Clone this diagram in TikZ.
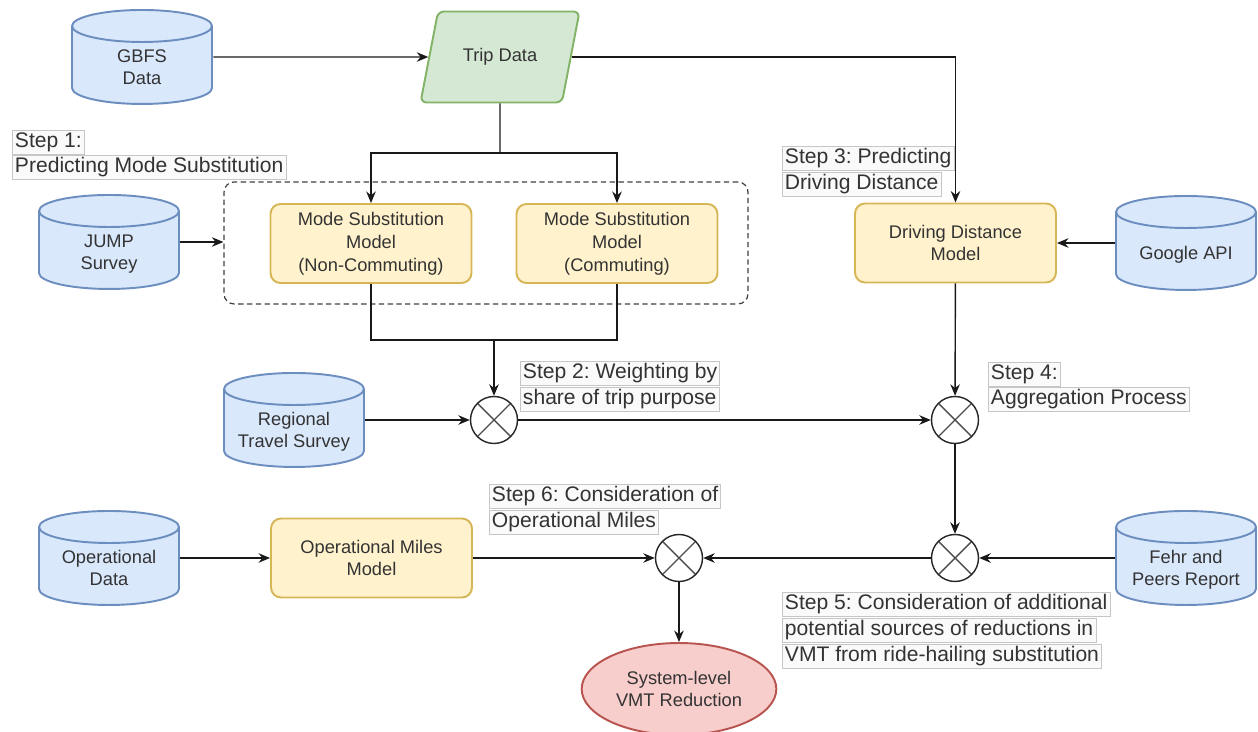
\documentclass[tikz,border=0pt]{standalone}
\usepackage{fontspec}
\setmainfont{Liberation Sans}
\frenchspacing
\usetikzlibrary{positioning,shapes.geometric,arrows.meta}

\definecolor{dbfill}{HTML}{DAE8FC}
\definecolor{dbline}{HTML}{6C8EBF}
\definecolor{modelfill}{HTML}{FFF2CC}
\definecolor{modelline}{HTML}{D6B656}
\definecolor{tripfill}{HTML}{D5E8D4}
\definecolor{tripline}{HTML}{82B366}
\definecolor{resfill}{HTML}{F8CECC}
\definecolor{resline}{HTML}{B85450}
\definecolor{txt}{HTML}{333333}

% text of a cylinder sits below the top end
\newcommand\dbtext[1]{\raisebox{-0.24cm}[\height][\depth]{\begin{tabular}{@{}c@{}}#1\end{tabular}}}

\tikzset{
  boxfont/.style={font=\fontsize{10.4}{13}\selectfont, text=txt, align=center},
  database/.style={boxfont, rectangle, inner sep=0pt,
    minimum width=2.8cm+1.1pt, minimum height=1.88cm+1.1pt,
    path picture={
      \draw[draw=dbline, fill=dbfill, line width=1.1pt]
        ([xshift=0.55pt, yshift=-0.339cm]path picture bounding box.north west)
        -- ++(0,-1.24cm)
        arc[start angle=180, end angle=360, x radius=1.4cm, y radius=0.32cm]
        -- ++(0,1.24cm)
        arc[start angle=0, end angle=180, x radius=1.4cm, y radius=0.32cm] -- cycle;
      \draw[draw=dbline, line width=1.1pt]
        ([xshift=0.55pt, yshift=-0.339cm]path picture bounding box.north west)
        arc[start angle=180, end angle=360, x radius=1.4cm, y radius=0.32cm];}},
  model/.style={boxfont, rectangle, rounded corners=0.2cm, draw=modelline,
    fill=modelfill, line width=1.1pt, minimum width=4.02cm, minimum height=1.58cm},
  tripbox/.style={boxfont, trapezium, trapezium left angle=67, trapezium right angle=113,
    trapezium stretches=true, rounded corners=0.12cm, draw=tripline, fill=tripfill,
    line width=1.1pt, minimum width=3.2cm, minimum height=1.82cm},
  result/.style={boxfont, ellipse, draw=resline, fill=resfill, line width=1.1pt,
    minimum width=3.76cm, minimum height=1.84cm},
  mixer/.style={circle, draw=black!85, line width=0.8pt, minimum size=0.94cm, inner sep=0pt,
    path picture={\draw[black!70, line width=0.8pt]
      (path picture bounding box.north west) -- (path picture bounding box.south east)
      (path picture bounding box.north east) -- (path picture bounding box.south west);}},
  groupbox/.style={draw=black!75, dash pattern=on 3pt off 2pt, rounded corners=0.2cm,
    line width=0.7pt, minimum width=10.48cm, minimum height=2.44cm},
  steplabel/.style={anchor=north west, draw=gray!45, fill=gray!4, line width=0.4pt,
    inner xsep=1.5pt, inner ysep=0pt, minimum height=0.48cm, text height=9pt,
    text depth=2.6pt, font=\fontsize{12}{14}\selectfont, text=txt},
  flow/.style={-{Stealth[length=2.3mm,width=1.9mm]}, line width=0.8pt, draw=black!90},
  link/.style={line width=0.8pt, draw=black!90}
}

\begin{document}
\begin{tikzpicture}[x=0.02cm, y=-0.02cm]
\useasboundingbox (0,0) rectangle (1258,732);

% data sources
\node[database] (gbfs) at (142,57) {\dbtext{GBFS\\Data}};
\node[database] (jump) at (109,242) {\dbtext{JUMP\\Survey}};
\node[database] (regional) at (294,420) {\dbtext{Regional\\Travel Survey}};
\node[database] (opdata) at (109,558) {\dbtext{Operational\\Data}};
\node[database] (google) at (1186,243) {\dbtext{Google API}};
\node[database] (fehr) at (1186,558) {\dbtext{Fehr and\\Peers Report}};

% trip data
\node[tripbox] (trip) at (500,57) {Trip Data};

% step 1 group
\node[groupbox] (group) at (486,243) {};
\node[model] (ncm) at (371,243.5) {Mode Substitution\\Model\\(Non-Commuting)};
\node[model] (cm) at (617,243.5) {Mode Substitution\\Model\\(Commuting)};

% models
\node[model] (drive) at (955.5,243) {Driving Distance\\Model};
\node[model] (opmiles) at (371.5,558) {Operational Miles\\Model};

% combination points
\node[mixer] (mix1) at (494,420) {};
\node[mixer] (mix2) at (955,420) {};
\node[mixer] (mix3) at (955,558) {};
\node[mixer] (mix4) at (679,558) {};

\node[result] (vmt) at (679,689) {System-level\\VMT Reduction};

% step labels
\node[steplabel] (s1a) at (12,130) {Step 1:};
\node[steplabel] (s1b) at (12,155) {Predicting Mode Substitution};
\node[steplabel] (s2a) at (520,361) {Step 2: Weighting by};
\node[steplabel] (s2b) at (520,387) {share of trip purpose};
\node[steplabel] (s3a) at (782,146) {Step 3: Predicting};
\node[steplabel] (s3b) at (782,172) {Driving Distance};
\node[steplabel] (s4a) at (988,362) {Step 4:};
\node[steplabel] (s4b) at (988,387) {Aggregation Process};
\node[steplabel] (s5a) at (782,592) {Step 5: Consideration of additional};
\node[steplabel] (s5b) at (782,618) {potential sources of reductions in};
\node[steplabel] (s5c) at (782,644) {VMT from ride-hailing substitution};
\node[steplabel] (s6a) at (489,484) {Step 6: Consideration of};
\node[steplabel] (s6b) at (489,510) {Operational Miles};

% connectors
\coordinate (tripfork) at (500,153);
\coordinate (modejoin) at (494,340);
\draw[flow] (gbfs) -- (trip);
\draw[flow] (trip.east) -| (drive);
\draw[link] (trip.south) -- (tripfork);
\draw[flow] (tripfork) -| (ncm);
\draw[flow] (tripfork) -| (cm);
\draw[flow] (jump) -- (jump -| group.west);
\draw[link] (ncm) |- (modejoin);
\draw[link] (cm) |- (modejoin);
\draw[flow] (modejoin) -- (mix1);
\draw[flow] (regional) -- (mix1);
\draw[flow] (mix1) -- (mix2);
\draw[flow] (google) -- (drive);
\draw[flow] (drive) -- (mix2);
\draw[flow] (mix2) -- (mix3);
\draw[flow] (fehr) -- (mix3);
\draw[flow] (mix3) -- (mix4);
\draw[flow] (opdata) -- (opmiles);
\draw[flow] (opmiles) -- (mix4);
\draw[flow] (mix4) -- (vmt);
\end{tikzpicture}
\end{document}
